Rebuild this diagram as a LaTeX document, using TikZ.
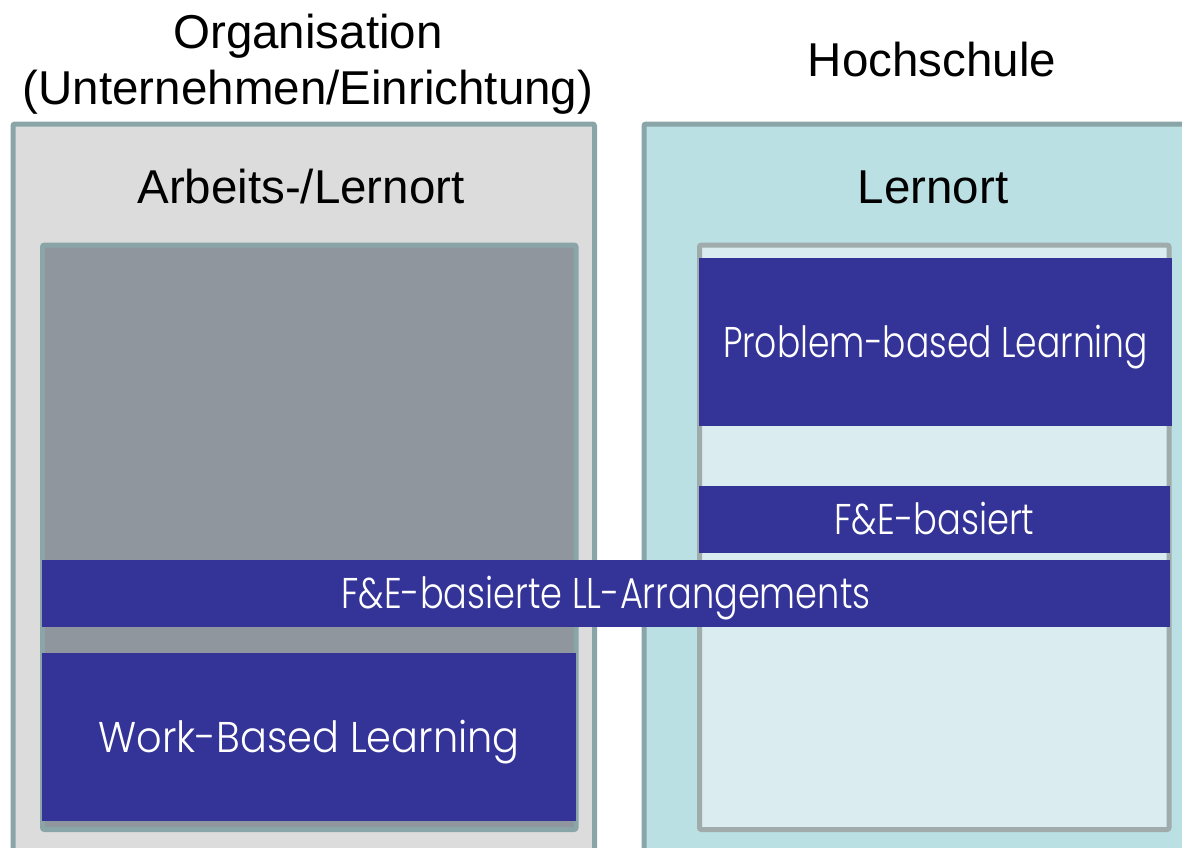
\documentclass[tikz,border=0pt]{standalone}
\usepackage{fontspec}
\usepackage{graphicx}
\setmainfont{Liberation Sans}
\newfontfamily\boxfont{Poppins Light}
\definecolor{orgfill}{HTML}{DCDCDC}
\definecolor{hsfill}{HTML}{BBE0E3}
\definecolor{frameline}{HTML}{89A5A8}
\definecolor{innergray}{HTML}{8F969D}
\definecolor{innerlight}{HTML}{DAECEF}
\definecolor{innerline}{HTML}{A0ABAC}
\definecolor{bluebar}{HTML}{343398}
\newcommand{\fitw}[2]{\resizebox{#1}{\height}{#2}}
\tikzset{
  head/.style={anchor=base, inner sep=0pt, font=\fontsize{47.5}{56}\selectfont, text=black},
  outerbox/.style={draw=frameline, line width=5pt, rounded corners=2pt, inner sep=0pt, outer sep=0pt},
  innerbox/.style={line width=5pt, rounded corners=2pt, inner sep=0pt, outer sep=0pt},
  bluebox/.style={fill=bluebar, draw=none, inner sep=0pt, outer sep=0pt, text=white,
     font=\boxfont\fontsize{43}{50}\selectfont, text height=30pt, text depth=0pt},
}
\begin{document}
\begin{tikzpicture}[x=1pt,y=-1pt]
\useasboundingbox (0,0) rectangle (1182,847);
\fill[white] (0,0) rectangle (1182,847);
\begin{scope}
\clip (0,0) rectangle (1182,847);
% outer containers
\node[outerbox, fill=orgfill, minimum width=581.5pt, minimum height=746pt] (orgbox) at (303.75,497) {};
\node[outerbox, fill=hsfill, minimum width=556pt, minimum height=746pt] (hsbox) at (922,497) {};
% inner containers
\node[innerbox, draw=frameline, fill=innergray, minimum width=533.5pt, minimum height=584.5pt] (orginner) at (309.25,537.25) {};
\node[innerbox, draw=innerline, fill=innerlight, minimum width=469.5pt, minimum height=584.5pt] (hsinner) at (934.25,537.25) {};
% blue boxes
\node[bluebox, minimum width=473pt, minimum height=168pt] (pbl) at (935.5,342) {\fitw{425pt}{Problem-based Learning}};
\node[bluebox, minimum width=471pt, minimum height=67pt] (fe) at (934.5,519.5) {\fitw{200pt}{F\&E-basiert}};
\node[bluebox, minimum width=1128pt, minimum height=67pt] (ll) at (606,593.5) {\fitw{529pt}{F\&E-basierte LL-Arrangements}};
\node[bluebox, minimum width=534pt, minimum height=168pt] (wbl) at (309,737) {\fitw{421pt}{Work-Based Learning}};
\end{scope}
% headings
\node[head] (org1) at (308,48) {Organisation};
\node[head] (org2) at (308,104) {(Unternehmen/Einrichtung)};
\node[head] (hs) at (932,76) {Hochschule};
\node[head] (alo) at (301,203) {Arbeits-/Lernort};
\node[head] (lo) at (933,203) {Lernort};
\end{tikzpicture}
\end{document}
